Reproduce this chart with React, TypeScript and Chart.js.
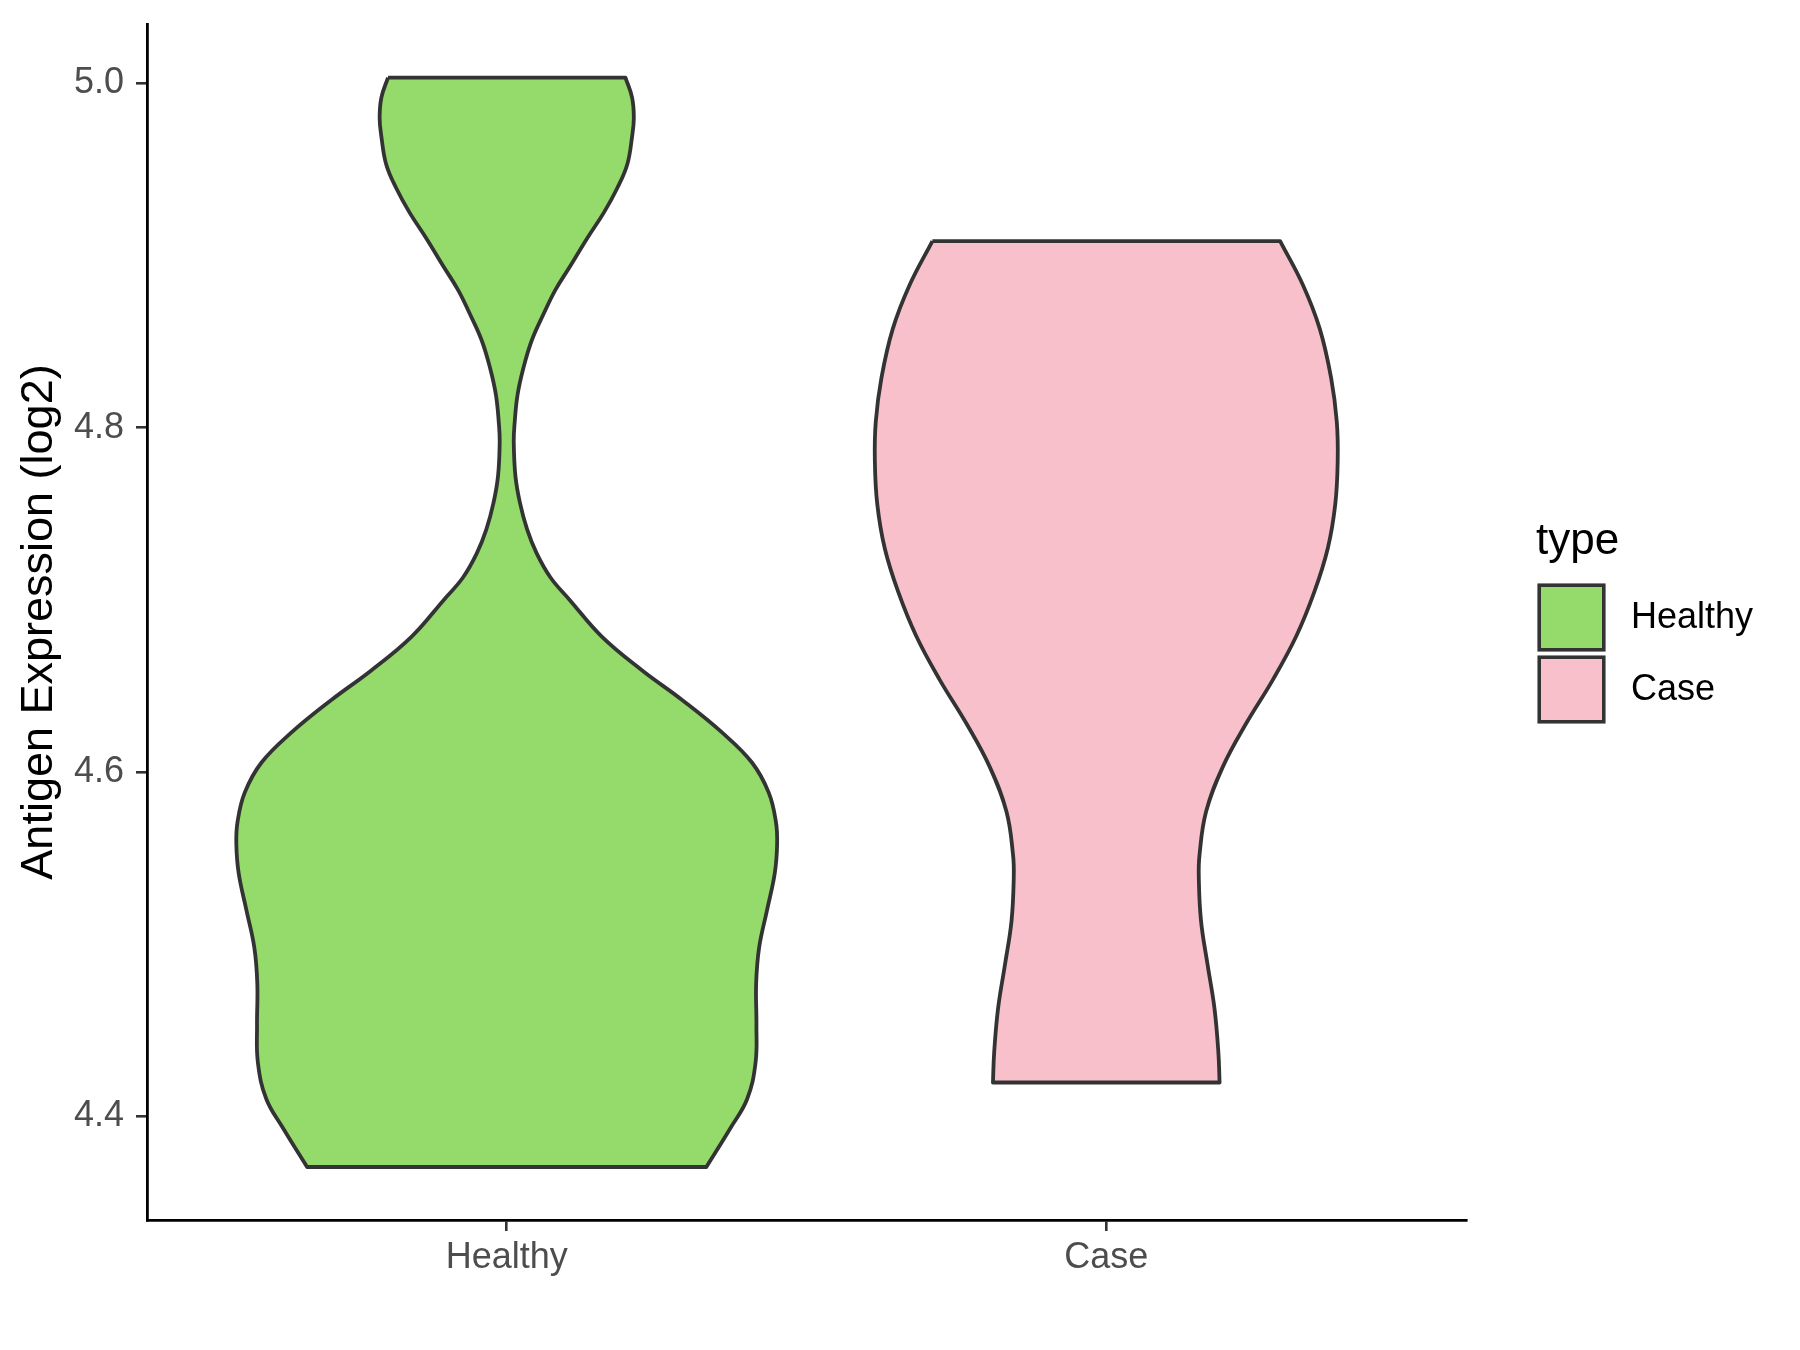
import React, { useEffect, useRef } from 'react';
import { Chart, registerables } from 'chart.js';

Chart.register(...registerables);

const FONT = '"Liberation Sans", Arial, Helvetica, sans-serif';

const categories = ['Healthy', 'Case'];
const categoryPositions = [1, 2];
const fillColors = ['#94DB6B', '#F7C0CB'];
const yTicks = [4.4, 4.6, 4.8, 5.0];
const yAxisTitle = 'Antigen Expression (log2)';
const legendTitle = 'type';

// Violin outlines: expression value and half-width (in category units)
const healthyY = [
  5.0035, 4.992, 4.98, 4.969, 4.953, 4.939, 4.925, 4.91, 4.894, 4.88, 4.8665, 4.851,
  4.835, 4.819, 4.802, 4.792, 4.772, 4.7565, 4.741, 4.727, 4.713, 4.7, 4.6785, 4.659,
  4.642, 4.623, 4.6055, 4.588, 4.571, 4.558, 4.541, 4.5195, 4.498, 4.477, 4.453, 4.431,
  4.41, 4.393, 4.3705,
];
const healthyHalfWidth = [
  0.198, 0.209, 0.212, 0.209, 0.201, 0.184, 0.162, 0.134, 0.106, 0.081, 0.062, 0.042,
  0.028, 0.018, 0.013, 0.0117, 0.0145, 0.022, 0.034, 0.05, 0.073, 0.105, 0.159, 0.226,
  0.292, 0.359, 0.409, 0.437, 0.449, 0.451, 0.447, 0.434, 0.421, 0.416, 0.4165, 0.415,
  0.401, 0.373, 0.333,
];
const caseY = [
  4.9085, 4.883, 4.8576, 4.829, 4.8034, 4.781, 4.7557, 4.73, 4.7046, 4.679, 4.6537,
  4.628, 4.6027, 4.577, 4.5518, 4.539, 4.5136, 4.488, 4.4626, 4.437, 4.4196,
];
const caseHalfWidth = [
  0.29, 0.328, 0.356, 0.375, 0.3845, 0.386, 0.382, 0.3695, 0.347, 0.317, 0.278, 0.233,
  0.194, 0.1665, 0.1555, 0.1543, 0.158, 0.169, 0.1805, 0.187, 0.189,
];

function outline(center: number, ys: number[], hws: number[]) {
  const n = ys.length;
  const left = ys.map((y, i) => ({ x: center - hws[i], y }));
  const right = ys.map((y, i) => ({ x: center + hws[i], y })).reverse();
  return [
    ...left,
    { ...left[n - 1] },
    { ...right[0] },
    ...right,
    { ...right[n - 1] },
    { ...left[0] },
  ];
}

const legendPlugin = {
  id: 'ggLegend',
  afterDraw(chart: any) {
    const ctx = chart.ctx;
    ctx.save();
    ctx.font = `44px ${FONT}`;
    ctx.fillStyle = '#000000';
    ctx.textAlign = 'left';
    ctx.textBaseline = 'alphabetic';
    ctx.fillText(legendTitle, 1536, 554);
    chart.data.datasets.forEach((ds: any, i: number) => {
      const top = 583.5 + i * 72;
      const size = 68;
      ctx.fillStyle = ds.backgroundColor;
      ctx.fillRect(1537.5, top, size, size);
      ctx.strokeStyle = '#333333';
      ctx.lineWidth = 3.5;
      ctx.strokeRect(1539.25, top + 1.75, size - 3.5, size - 3.5);
      ctx.font = `36px ${FONT}`;
      ctx.fillStyle = '#000000';
      ctx.textBaseline = 'middle';
      ctx.fillText(ds.label, 1631, top + size / 2 + 0.5);
    });
    ctx.restore();
  },
};

export default function App() {
  const canvasRef = useRef<HTMLCanvasElement | null>(null);

  useEffect(() => {
    const canvas = canvasRef.current;
    if (!canvas) return;
    const datasets = [
      { ys: healthyY, hws: healthyHalfWidth },
      { ys: caseY, hws: caseHalfWidth },
    ].map((v, i) => ({
      label: categories[i],
      data: outline(categoryPositions[i], v.ys, v.hws),
      backgroundColor: fillColors[i],
      borderColor: '#333333',
      borderWidth: 3.8,
      borderJoinStyle: 'round',
      fill: 'shape',
      pointRadius: 0,
      pointHoverRadius: 0,
      tension: 0.4,
    }));

    const axisGrid = {
      drawOnChartArea: false,
      drawTicks: true,
      tickLength: 11,
      tickColor: '#333333',
      tickWidth: 2.6,
      lineWidth: 2.6,
    };
    const axisBorder = { display: true, color: '#000000', width: 2.8 };

    const chart = new Chart(canvas, {
      type: 'line',
      data: { datasets: datasets as any },
      options: {
        animation: false,
        responsive: false,
        devicePixelRatio: 1,
        events: [],
        layout: { padding: { left: 0, top: 24, right: 334, bottom: 0 } },
        plugins: {
          legend: { display: false },
          tooltip: { enabled: false },
        },
        scales: {
          x: {
            type: 'linear',
            min: 0.4,
            max: 2.6,
            afterBuildTicks: (s: any) => {
              s.ticks = categoryPositions.map((v) => ({ value: v }));
            },
            afterFit: (s: any) => {
              s.height = 130;
              s.paddingLeft = 0;
              s.paddingRight = 0;
            },
            ticks: {
              callback: (v: any) => {
                const idx = categoryPositions.indexOf(Number(v));
                return idx >= 0 ? categories[idx] : '';
              },
              font: { family: FONT, size: 36 },
              color: '#4D4D4D',
              padding: 5,
              maxRotation: 0,
              autoSkip: false,
            },
            grid: axisGrid,
            border: axisBorder,
          },
          y: {
            type: 'linear',
            min: 4.3397,
            max: 5.0346,
            afterBuildTicks: (s: any) => {
              s.ticks = yTicks.map((v) => ({ value: v }));
            },
            afterFit: (s: any) => {
              s.width = 147;
              s.paddingTop = 0;
              s.paddingBottom = 0;
            },
            ticks: {
              callback: (v: any) => Number(v).toFixed(1),
              font: { family: FONT, size: 36 },
              color: '#4D4D4D',
              padding: 12,
            },
            grid: axisGrid,
            border: axisBorder,
            title: {
              display: true,
              text: yAxisTitle,
              font: { family: FONT, size: 45 },
              color: '#000000',
              padding: { top: 13, bottom: 0 },
            },
          },
        },
      } as any,
      plugins: [legendPlugin],
    });

    return () => chart.destroy();
  }, []);

  return (
    <div style={{ position: 'absolute', left: 0, top: 0, width: 1800, height: 1350, background: '#ffffff' }}>
      <canvas ref={canvasRef} width={1800} height={1350} style={{ width: 1800, height: 1350, display: 'block' }} />
    </div>
  );
}
